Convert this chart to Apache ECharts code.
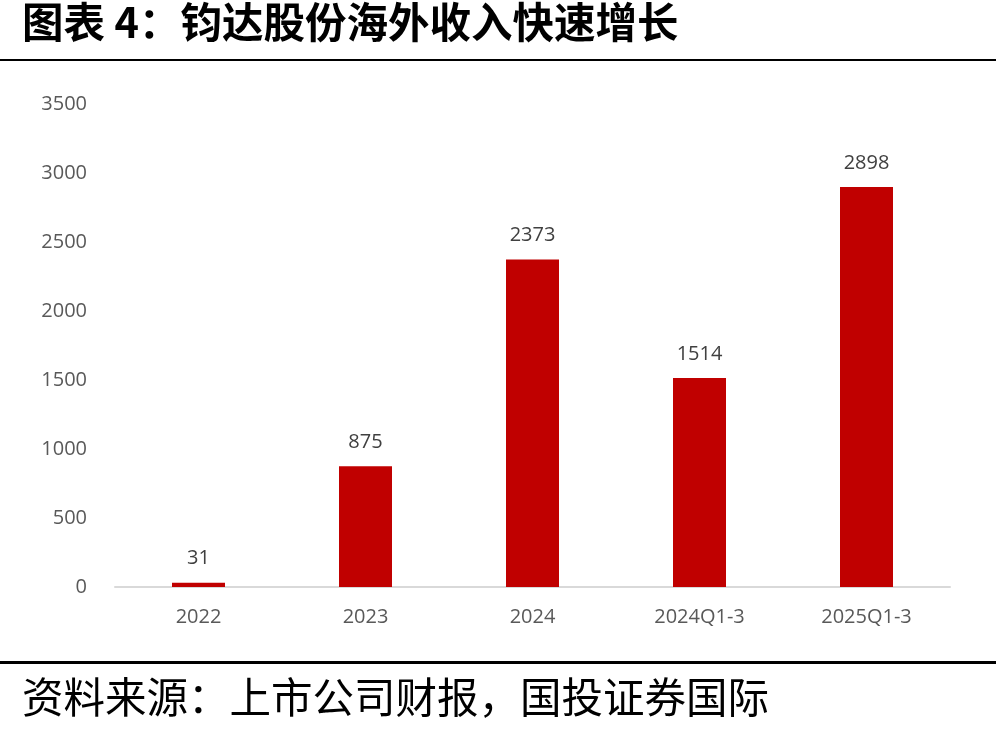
<!DOCTYPE html>
<html><head><meta charset="utf-8">
<script src="https://cdn.jsdelivr.net/npm/echarts@6/dist/echarts.min.js"></script>
<style>html,body{margin:0;padding:0;background:#fff}#c{width:996px;height:737px}</style>
</head><body><div id="c"></div>
<script>
const categories = ['2022', '2023', '2024', '2024Q1-3', '2025Q1-3'];
const overseasRevenue = [31, 875, 2373, 1514, 2898];
const yTicks = { min: 0, max: 3500, interval: 500 };
const titleText = '图表 4：钧达股份海外收入快速增长';
const sourceText = '资料来源：上市公司财报，国投证券国际';

const chart = echarts.init(document.getElementById('c'), null, { renderer: 'canvas' });
chart.setOption({
  backgroundColor: '#fff',
  animation: false,
  grid: { left: 115, right: 46, top: 104, bottom: 150, containLabel: false },
  xAxis: {
    type: 'category', data: categories,
    axisLine: { show: true, lineStyle: { color: '#d9d9d9', width: 2 } },
    axisTick: { show: false },
    axisLabel: { color: '#595959', fontSize: 20, fontFamily: 'Open Sans', margin: 20 }
  },
  yAxis: {
    type: 'value', min: yTicks.min, max: yTicks.max, interval: yTicks.interval,
    axisLine: { show: false }, axisTick: { show: false }, splitLine: { show: false },
    axisLabel: { color: '#595959', fontSize: 20, fontFamily: 'Open Sans', margin: 28, formatter: v => String(v) }
  },
  series: [{
    type: 'bar', data: overseasRevenue, barWidth: 53,
    itemStyle: { color: '#C00000' },
    label: { show: true, position: 'top', distance: 14, color: '#404040', fontSize: 20, fontFamily: 'Open Sans' }
  }],
  graphic: [
    { type: 'text', left: 22, top: 1, style: { text: titleText, font: 'bold 41.5px "Noto Sans CJK SC"', fill: '#000' } },
    { type: 'rect', shape: { x: 0, y: 59, width: 996, height: 2 }, style: { fill: '#000' } },
    { type: 'rect', shape: { x: 0, y: 661, width: 996, height: 3 }, style: { fill: '#000' } },
    { type: 'text', left: 22, top: 676, style: { text: sourceText, font: '41.5px "Noto Sans CJK SC"', fill: '#000' } }
  ]
});
</script></body></html>
